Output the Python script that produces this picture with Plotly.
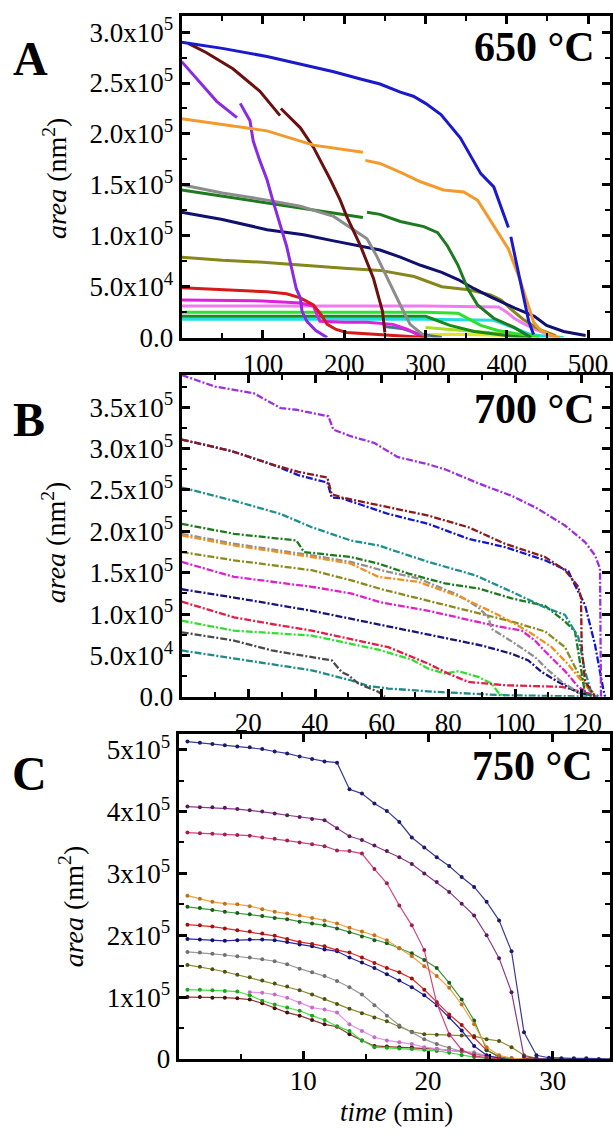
import plotly.graph_objects as go

W, H = 613, 1133

# ---------------- Panel A (650 °C) : time (min), area (10^3 nm^2) ----------------
a_blue_t = [0, 50, 105, 150, 187, 220, 244, 269, 285, 300, 319, 343, 356, 368, 384, 402, None, 405, 417, 427, 433]
a_blue_k = [290, 284, 276, 268, 261, 254, 249, 241, 237, 230, 219, 196, 177, 161, 148, 108, None, 99, 55, 16, 3]
a_orange_t = [0, 50, 105, 162, 200, 223, None, 226, 244, 270, 294, 322, 347, 364, 384, 402, 417, 427, 433, 442, 455, 465]
a_orange_k = [215, 209, 203, 189, 185, 182, None, 174, 171, 162, 153, 145, 143, 135, 109, 87, 55, 29, 15, 7, 2, 0]
a_maroon_t = [8, 30, 63, 96, 121, None, 122, 146, 162, 183, 195, 203, 220, 236, 247, 250]
a_maroon_k = [289, 280, 264, 242, 218, None, 225, 206, 187, 155, 135, 119, 90, 58, 26, 5]
a_violet_t = [0, 22, 43, 68, None, 72, 84, 88, 96, 105, 112, 129, 141, 146, 148, 154, 165, 179]
a_violet_k = [271, 251, 232, 216, None, 230, 213, 193, 174, 155, 135, 90, 48, 39, 26, 16, 7, 0]
a_grey_t = [0, 50, 105, 146, 187, 211, 228, 240, 253, 269, 281, 295, 305]
a_grey_k = [150, 142, 135, 129, 119, 106, 97, 80, 58, 32, 13, 4, 0]
a_green_t = [0, 50, 105, 150, 187, 223, None, 228, 244, 269, 298, 315, 327, 340, 352, 364, 384, 409, 430]
a_green_k = [145, 139, 132, 127, 122, 118, None, 123, 121, 114, 109, 103, 90, 71, 48, 32, 19, 10, 0]
a_navy_t = [0, 50, 105, 150, 187, 228, 244, 269, 294, 320, 340, 360, 380, 410, 434, 449, 470, 497]
a_navy_k = [123, 116, 106, 101, 95, 89, 86, 79, 71, 64, 57, 48, 40, 29, 21, 12, 6, 2]
a_olive_t = [0, 50, 100, 146, 200, 244, 286, 320, 353, 380, 393, 405, 420, 440, 460]
a_olive_k = [79, 76, 74, 71, 68, 66, 60, 50, 47, 42, 37, 28, 18, 8, 2]
a_red_t = [0, 50, 105, 129, 146, 162, 172, 179, 190, 203, 240, 269, 300]
a_red_k = [49, 47, 45, 43, 39, 32, 22, 13, 8, 5, 3, 2, 0]
a_magenta_t = [0, 100, 146, 162, 170, 200, 228, 260, 278, 290, 300]
a_magenta_k = [37, 36, 34, 31, 16, 15, 15, 13, 8, 3, 0]
a_pink_t = [0, 100, 200, 300, 390, 400, 409, 420, 438, 455]
a_pink_k = [31, 31, 31, 31, 30, 25, 19, 14, 7, 2]
a_lgreen_t = [0, 100, 200, 300, 340, 355, 368, 389, 410, 440]
a_lgreen_k = [25, 25, 25, 25, 24, 18, 12, 7, 4, 1]
a_dgreen_t = [0, 100, 200, 300, 310, 330, 360, 400, 430]
a_dgreen_k = [21, 21, 21, 21, 18, 12, 6, 2, 0]
a_cyan_t = [0, 100, 200, 300, 384, 400, 417, 430, 450, 470]
a_cyan_k = [18, 18, 18, 18, 17, 12, 7, 3, 1, 0]
a_slate_t = [250, 270, 295, 320]
a_slate_k = [11, 9, 3, 0]
a_lime_t = [300, 347, 409, 440]
a_lime_k = [10, 7, 3, 0]
a_yellow_t = [300, 350, 400, 450]
a_yellow_k = [3, 3, 2, 0]

# ---------------- Panel B (700 °C) ----------------
b_violet_t = [0, 10, 21.6, 29.7, 34.4, 44, 45.5, 50.7, 57.7, 64.7, 74, 79, 89, 99, 107, 115, 121, 124, 125.5, 125.8]
b_violet_k = [389, 375, 367, 349, 347, 339, 323, 315, 307, 290, 281, 275, 258, 243, 227, 207, 187, 171, 155, 0]
b_darkred_t = [0, 15, 27, 35, 43.7, 45, 48, 62, 74, 86, 97, 109, 115, 119, 119.8, 120, 121, 124]
b_darkred_k = [311, 297, 281, 272, 265, 245, 241, 229, 219, 205, 185, 169, 153, 133, 120, 60, 19, 0]
b_blue_t = [0, 15, 27, 35, 43.7, 45, 48, 62, 74, 86, 97, 109, 116, 117, 121, 124, 126, 127]
b_blue_k = [311, 297, 281, 268, 259, 241, 240, 221, 209, 191, 181, 165, 152, 143, 111, 63, 19, 0]
b_teal_t = [0, 15.7, 29.7, 39, 50.7, 59, 74, 88, 99, 109, 115, 119, 121, 123, 125]
b_teal_k = [253, 237, 221, 205, 189, 183, 163, 147, 127, 108, 99, 72, 31, 4, 1]
b_green_t = [0, 15.7, 34.4, 36.7, 50.7, 59, 68, 79, 89, 99, 109, 115, 118, 119.5, 121, 123]
b_green_k = [209, 197, 189, 175, 169, 161, 149, 137, 131, 119, 110, 91, 79, 39, 4, 1]
b_grey_t = [0, 15.7, 39, 50.7, 62, 71, 83, 89, 92, 93, 99, 106, 110, 114, 120]
b_grey_k = [197, 185, 171, 163, 151, 143, 123, 108, 96, 82, 67, 48, 32, 18, 3]
b_orange_t = [0, 15.7, 39, 50.7, 59, 71, 84, 95, 104, 111, 116, 120, 124]
b_orange_k = [195, 183, 169, 161, 145, 139, 120, 99, 79, 60, 39, 19, 3]
b_olive_t = [0, 15.7, 39, 50.7, 60, 79, 99, 109, 115, 119, 123]
b_olive_k = [175, 165, 153, 141, 130, 111, 91, 79, 60, 28, 4]
b_magenta_t = [0, 15.7, 39, 50.7, 60, 74, 86, 95, 102, 106, 109, 115, 119, 123]
b_magenta_k = [163, 145, 133, 125, 114, 104, 93, 85, 80, 68, 55, 31, 12, 2]
b_navy_t = [0, 15.7, 39, 60, 80, 90, 99, 104, 108, 113, 119, 124]
b_navy_k = [130, 120, 104, 87, 70, 62, 52, 44, 30, 18, 5, 1]
b_crimson_t = [0, 15.7, 27, 39, 62, 74, 80, 86, 97, 114, 121, 125]
b_crimson_k = [115, 96, 88, 80, 60, 40, 28, 18, 14, 12, 5, 1]
b_lgreen_t = [0, 15.7, 39, 59, 69, 74, 79, 83, 89, 93, 95, 97]
b_lgreen_k = [92, 80, 74, 57, 45, 34, 28, 31, 24, 16, 5, 0]
b_dgrey_t = [0, 15.7, 27, 39, 45, 48, 50, 53, 59, 61]
b_dgrey_k = [78, 68, 56, 48, 44, 30, 26, 16, 6, 0]
b_teal2_t = [0, 15.7, 39, 50.7, 56, 62, 76, 96, 110, 125]
b_teal2_k = [56, 46, 32, 20, 13, 10, 6, 2, 1, 0]

# ---------------- Panel C (750 °C) ----------------
c_time = [0.7, 1.7, 2.7, 3.7, 4.7, 5.7, 6.7, 7.7, 8.7, 9.7, 10.7, 11.7, 12.7, 13.7, 14.7,
          15.7, 16.7, 17.7, 18.7, 19.7, 20.7, 21.7, 22.7, 23.7, 24.7, 25.7, 26.7, 27.7,
          28.7, 29.7, 30.7, 31.7, 32.7, 33.7, 34.7]
c_navy_k = [513, 511, 509, 507, 505, 504, 501, 497, 494, 489, 485, 481, 479, 436, 429, 413, 401, 383,
            358, 342, 326, 312, 294, 278, 254, 224, 174, 43, 6, 2, 1, 1, 1, 0, 0]
c_purple_k = [408, 407, 407, 406, 404, 402, 400, 397, 394, 391, 388, 386, 373, 360, 354, 345, 336, 326,
              315, 300, 286, 270, 251, 232, 200, 163, 108, 4, 1, 0]
c_rose_k = [366, 365, 364, 363, 362, 361, 358, 356, 353, 350, 347, 344, 337, 336, 332, 307, 284, 248,
            216, 176, 90, 40, 15, 5, 2, 0]
c_orange_k = [264, 259, 254, 251, 250, 247, 242, 238, 235, 232, 228, 224, 219, 212, 206, 200, 192, 179,
              166, 150, 134, 115, 88, 56, 19, 6, 1, 0]
c_green_k = [246, 244, 241, 238, 236, 234, 231, 228, 226, 222, 219, 216, 211, 205, 198, 192, 187, 179,
             171, 160, 147, 123, 96, 62, 15, 3, 0]
c_red_k = [217, 216, 214, 211, 208, 206, 203, 199, 194, 189, 186, 182, 176, 172, 164, 155, 147, 140,
           130, 112, 92, 72, 55, 35, 14, 4, 0]
c_blue_k = [194, 193, 192, 191, 192, 193, 193, 192, 189, 185, 182, 177, 174, 164, 156, 147, 137, 127,
            116, 103, 87, 67, 46, 21, 6, 1, 0]
c_grey_k = [173, 172, 170, 168, 166, 164, 161, 158, 153, 146, 140, 134, 126, 116, 104, 87, 70, 54,
            43, 32, 24, 18, 12, 8, 4, 1, 0]
c_olive_k = [152, 149, 145, 141, 136, 132, 127, 122, 117, 111, 104, 97, 89, 81, 74, 67, 61, 52, 44, 40,
             39, 38, 38, 37, 32, 29, 19, 6, 1, 0, 0, 0]
c_pink_time = [5.7, 6.7, 7.7, 8.7, 9.7, 10.7, 11.7, 12.7, 13.7, 14.7, 15.7, 16.7, 17.7, 18.7, 19.7,
               20.7, 21.7, 22.7, 23.7, 24.7, 25.7, 26.7]
c_pink_k = [108, 107, 104, 99, 91, 83, 80, 75, 56, 45, 35, 30, 27, 24, 19, 16, 14, 12, 11, 5, 2, 0]
c_lgreen_k = [112, 112, 111, 110, 109, 103, 94, 88, 83, 78, 70, 63, 53, 45, 30, 19, 18, 17, 16, 15, 13,
              10, 6, 3, 1, 0]
c_maroon_k = [100, 100, 99, 99, 98, 96, 90, 82, 75, 70, 63, 56, 52, 40, 30, 21, 20, 19, 19, 18, 16, 14,
              12, 8, 5, 2, 1, 0, 0, 0, 0, 0, 0]

# ---------------- tick labels ----------------
a_yticks = [0, 50000, 100000, 150000, 200000, 250000, 300000]
a_ytext = ["0.0", "5.0x10<sup>4</sup>", "1.0x10<sup>5</sup>", "1.5x10<sup>5</sup>",
           "2.0x10<sup>5</sup>", "2.5x10<sup>5</sup>", "3.0x10<sup>5</sup>"]
a_xticks = [100, 200, 300, 400, 500]
b_yticks = [0, 50000, 100000, 150000, 200000, 250000, 300000, 350000]
b_ytext = ["0.0", "5.0x10<sup>4</sup>", "1.0x10<sup>5</sup>", "1.5x10<sup>5</sup>",
           "2.0x10<sup>5</sup>", "2.5x10<sup>5</sup>", "3.0x10<sup>5</sup>", "3.5x10<sup>5</sup>"]
b_xticks = [20, 40, 60, 80, 100, 120]
c_yticks = [0, 100000, 200000, 300000, 400000, 500000]
c_ytext = ["0", "1x10<sup>5</sup>", "2x10<sup>5</sup>", "3x10<sup>5</sup>", "4x10<sup>5</sup>",
           "5x10<sup>5</sup>"]
c_xticks = [10, 20, 30]

fig = go.Figure()


def k2nm(vals):
    return [None if v is None else v * 1000 for v in vals]


def add(ax, t, k, color, width, mode="lines", msize=0, mcolor=None, dash=None):
    fig.add_trace(go.Scatter(
        x=t, y=k2nm(k), xaxis="x" + ax, yaxis="y" + ax, mode=mode,
        line=dict(color=color, width=width, dash=dash),
        marker=dict(size=msize, color=mcolor or color),
        connectgaps=False, showlegend=False, hoverinfo="skip"))


# Panel A traces (drawn back to front)
A = ""
add(A, a_yellow_t, a_yellow_k, "#e6e61e", 3)
add(A, a_lime_t, a_lime_k, "#a8e01e", 3)
add(A, a_slate_t, a_slate_k, "#4a7290", 3)
add(A, a_cyan_t, a_cyan_k, "#22dede", 3)
add(A, a_dgreen_t, a_dgreen_k, "#1a8a1a", 3)
add(A, a_lgreen_t, a_lgreen_k, "#30e030", 3)
add(A, a_pink_t, a_pink_k, "#f07cf0", 3)
add(A, a_magenta_t, a_magenta_k, "#e020e0", 3)
add(A, a_red_t, a_red_k, "#d61a1a", 3)
add(A, a_olive_t, a_olive_k, "#86861a", 3)
add(A, a_navy_t, a_navy_k, "#10106e", 3)
add(A, a_green_t, a_green_k, "#1e7a1e", 3)
add(A, a_grey_t, a_grey_k, "#8c8c8c", 3)
add(A, a_violet_t, a_violet_k, "#8a2be2", 3)
add(A, a_maroon_t, a_maroon_k, "#6b1010", 3)
add(A, a_orange_t, a_orange_k, "#f39a2c", 3)
add(A, a_blue_t, a_blue_k, "#1a1acc", 3)

# Panel B traces (dense dotted look)
B = "2"
bd = "7px,2px,2px,2px"
add(B, b_teal2_t, b_teal2_k, "#1e8a8a", 2.3, dash=bd)
add(B, b_dgrey_t, b_dgrey_k, "#4a4a4a", 2.3, dash=bd)
add(B, b_lgreen_t, b_lgreen_k, "#30e030", 2.3, dash=bd)
add(B, b_crimson_t, b_crimson_k, "#e0204a", 2.3, dash=bd)
add(B, b_navy_t, b_navy_k, "#15157a", 2.3, dash=bd)
add(B, b_magenta_t, b_magenta_k, "#e020c8", 2.3, dash=bd)
add(B, b_olive_t, b_olive_k, "#8a8a1e", 2.3, dash=bd)
add(B, b_grey_t, b_grey_k, "#909090", 2.3, dash=bd)
add(B, b_orange_t, b_orange_k, "#f09020", 2.3, dash=bd)
add(B, b_green_t, b_green_k, "#1e7a1e", 2.3, dash=bd)
add(B, b_teal_t, b_teal_k, "#1e9090", 2.3, dash=bd)
add(B, b_blue_t, b_blue_k, "#1515d0", 2.3, dash=bd)
add(B, b_darkred_t, b_darkred_k, "#8b1a1a", 2.3, dash=bd)
add(B, b_violet_t, b_violet_k, "#9b30e0", 2.3, dash=bd)

# Panel C traces
C = "3"
cm = "lines+markers"
add(C, c_time[:len(c_maroon_k)], c_maroon_k, "#a03030", 1.2, cm, 4, "#401010")
add(C, c_time[:len(c_lgreen_k)], c_lgreen_k, "#40e040", 1.2, cm, 4, "#20a020")
add(C, c_pink_time, c_pink_k, "#e890e8", 1.2, cm, 4, "#c070c0")
add(C, c_time[:len(c_olive_k)], c_olive_k, "#8a8a30", 1.2, cm, 4, "#505010")
add(C, c_time[:len(c_grey_k)], c_grey_k, "#9a9a9a", 1.2, cm, 4, "#707070")
add(C, c_time[:len(c_blue_k)], c_blue_k, "#2828a8", 1.2, cm, 4, "#101070")
add(C, c_time[:len(c_red_k)], c_red_k, "#e02828", 1.2, cm, 4, "#a01010")
add(C, c_time[:len(c_green_k)], c_green_k, "#3a9a3a", 1.2, cm, 4, "#1a5a1a")
add(C, c_time[:len(c_orange_k)], c_orange_k, "#f0a040", 1.2, cm, 4, "#c07020")
add(C, c_time[:len(c_rose_k)], c_rose_k, "#d8407a", 1.2, cm, 4, "#a02050")
add(C, c_time[:len(c_purple_k)], c_purple_k, "#8a3a8a", 1.2, cm, 4, "#5a1a5a")
add(C, c_time[:len(c_navy_k)], c_navy_k, "#3a3a98", 1.2, cm, 4, "#1a1a6a")

FONT = "Liberation Serif"
tickfont = dict(family=FONT, size=27, color="black")


def minor(dt):
    return dict(ticks="inside", ticklen=5, tickwidth=2, tickcolor="black",
                tickmode="linear", tick0=0, dtick=dt)


def axis_style(**kw):
    d = dict(showline=True, linewidth=3, linecolor="black", mirror="allticks",
             ticks="inside", ticklen=8, tickwidth=2.5, tickcolor="black",
             showgrid=False, zeroline=False, tickfont=tickfont, fixedrange=True,
             tickmode="array")
    d.update(kw)
    return d


xl = 182 / W
xr = 611 / W


def ydom(top, bottom):
    return [1 - bottom / H, 1 - top / H]


fig.update_layout(
    width=W, height=H, margin=dict(l=0, r=0, t=0, b=0),
    paper_bgcolor="white", plot_bgcolor="white", showlegend=False,
    xaxis=axis_style(domain=[xl, xr], anchor="y", range=[0, 527],
                     tickvals=a_xticks, ticktext=[str(v) for v in a_xticks], minor=minor(50)),
    yaxis=axis_style(domain=ydom(13, 340), anchor="x", range=[0, 316000],
                     tickvals=a_yticks, ticktext=a_ytext, minor=minor(25000)),
    xaxis2=axis_style(domain=[xl, xr], anchor="y2", range=[0, 128.5],
                      tickvals=b_xticks, ticktext=[str(v) for v in b_xticks], minor=minor(10)),
    yaxis2=axis_style(domain=ydom(378, 705), anchor="x2", range=[0, 389000],
                      tickvals=b_yticks, ticktext=b_ytext, minor=minor(25000)),
    xaxis3=axis_style(domain=[179 / W, xr], anchor="y3", range=[0, 34.6],
                      tickvals=c_xticks, ticktext=[str(v) for v in c_xticks], minor=minor(5),
                      ticklabelstandoff=-4),
    yaxis3=axis_style(domain=ydom(743, 1073), anchor="x3", range=[0, 525000],
                      tickvals=c_yticks, ticktext=c_ytext, minor=minor(50000)),
)


def ann(text, px, py, size, bold=False, angle=0, xanchor="center", yanchor="middle"):
    fig.add_annotation(text=("<b>%s</b>" % text) if bold else text,
                       x=px / W, y=1 - py / H, xref="paper", yref="paper",
                       xanchor=xanchor, yanchor=yanchor, showarrow=False, textangle=angle,
                       font=dict(family=FONT, size=size, color="black"))


ann("A", 31, 56, 48, bold=True)
ann("B", 29, 423, 48, bold=True)
ann("C", 30, 783, 48, bold=True)
ann("650 °C", 598, 45, 42, bold=True, xanchor="right")
ann("700 °C", 598, 413, 42, bold=True, xanchor="right")
ann("750 °C", 596, 775, 42, bold=True, xanchor="right")
ann("<i>area</i> (nm<sup>2</sup>)", 55, 178, 28, angle=-90)
ann("<i>area</i> (nm<sup>2</sup>)", 54, 548, 28, angle=-90)
ann("<i>area</i> (nm<sup>2</sup>)", 72, 918, 28, angle=-90)
ann("<i>time</i> (min)", 397, 1127, 27)

fig.write_html("out.html")
